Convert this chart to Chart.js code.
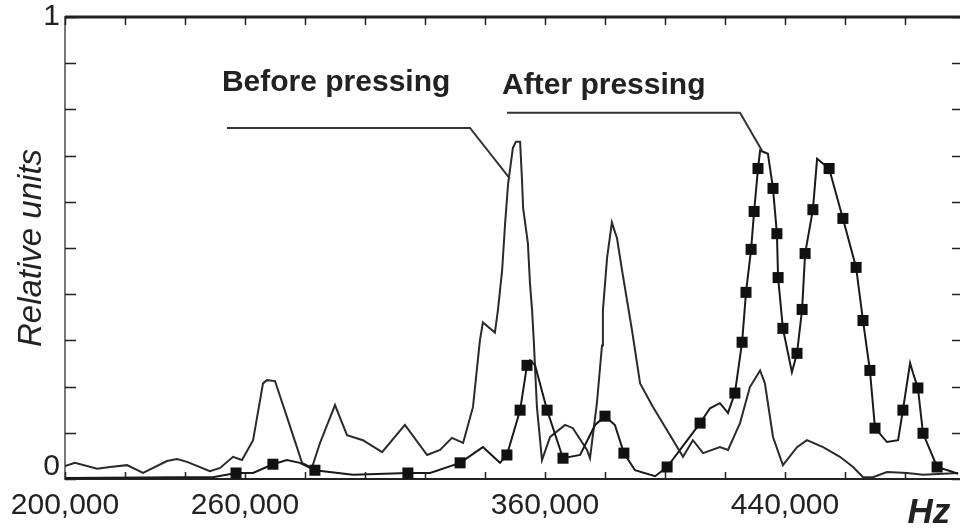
<!DOCTYPE html>
<html>
<head>
<meta charset="utf-8">
<script src="https://cdn.jsdelivr.net/npm/chart.js@4.4.1/dist/chart.umd.min.js"></script>
<style>
  html, body { margin: 0; padding: 0; background: #fff; }
  #wrap { width: 960px; height: 531px; position: relative; }
</style>
</head>
<body>
<div id="wrap"><canvas id="chart"></canvas></div>
<script>
// ── Data (Hz, relative units) ──────────────────────────────────
const beforeHz = [200000, 203300, 210700, 215000, 220700, 226000, 234000, 237300, 240700, 248300,
  251700, 256000, 259000, 262700, 266000, 267300, 270000, 274000, 277300, 279000,
  282300, 285000, 290000, 294000, 299300, 305700, 313300, 320700, 325000, 329000,
  332700, 336000, 338300, 339300, 343300, 344300, 345700, 346700, 347700, 349300,
  350300, 351700, 352300, 352700, 354300, 355000, 355700, 356300, 357300, 359000,
  361700, 366700, 369300, 374000, 375000, 377300, 379000, 379300, 380700, 382300,
  384000, 385700, 389000, 391700, 396000, 402700, 406000, 409300, 412700, 418300,
  421000, 425000, 428300, 431700, 433300, 436000, 439300, 444000, 447300, 452700,
  458300, 462700, 466000, 469300, 474000, 480700, 486000, 497700];
const beforeVal = [0.028, 0.035, 0.022, 0.026, 0.030, 0.013, 0.039, 0.043, 0.037, 0.017,
  0.024, 0.048, 0.041, 0.084, 0.207, 0.214, 0.212, 0.134, 0.069, 0.035,
  0.024, 0.078, 0.160, 0.095, 0.084, 0.058, 0.117, 0.052, 0.063, 0.089,
  0.078, 0.156, 0.300, 0.339, 0.317, 0.365, 0.451, 0.553, 0.639, 0.717,
  0.730, 0.730, 0.652, 0.587, 0.510, 0.423, 0.365, 0.294, 0.156, 0.041,
  0.091, 0.117, 0.110, 0.063, 0.045, 0.164, 0.289, 0.365, 0.479, 0.555,
  0.521, 0.451, 0.322, 0.207, 0.156, 0.084, 0.048, 0.084, 0.056, 0.069,
  0.063, 0.121, 0.199, 0.235, 0.207, 0.091, 0.030, 0.069, 0.084, 0.069,
  0.048, 0.026, 0.004, 0.004, 0.015, 0.013, 0.009, 0.013];

const afterHz = [200000, 238300, 249300, 257000, 262700, 269300, 274000, 278300, 283300, 296000,
  314300, 321700, 331700, 339300, 345000, 347300, 351700, 354000, 355000, 356700,
  360700, 366000, 371700, 376700, 380000, 383300, 386300, 390000, 396700, 400700,
  411700, 415000, 418300, 421000, 423300, 425700, 427000, 428700, 429700, 431000,
  431700, 434300, 436000, 437300, 437700, 439300, 442300, 444000, 445700, 446700,
  449300, 450700, 454700, 459300, 463700, 466000, 468300, 470000, 474000, 477700,
  479300, 481700, 482700, 484300, 486000, 490700, 496000, 497700];
const afterVal = [0.002, 0.004, 0.004, 0.013, 0.013, 0.032, 0.041, 0.035, 0.019, 0.009,
  0.013, 0.013, 0.035, 0.069, 0.035, 0.052, 0.149, 0.246, 0.257, 0.246,
  0.149, 0.045, 0.052, 0.117, 0.136, 0.117, 0.056, 0.019, 0.006, 0.026,
  0.121, 0.153, 0.164, 0.143, 0.186, 0.296, 0.404, 0.497, 0.579, 0.672,
  0.711, 0.704, 0.629, 0.531, 0.436, 0.326, 0.231, 0.272, 0.367, 0.488,
  0.583, 0.693, 0.672, 0.564, 0.458, 0.343, 0.235, 0.110, 0.080, 0.084,
  0.149, 0.251, 0.229, 0.197, 0.099, 0.026, 0.015, 0.011];

// square markers on the "after" curve
const markHz = [257000, 269300, 283300, 314300, 331700, 347300, 351700, 354000, 360700, 366000,
  380000, 386300, 400700, 411700, 423300, 425700, 427000, 428700, 429700, 431000,
  436000, 437300, 437700, 439300, 444000, 445700, 446700, 449300, 454700, 459300,
  463700, 466000, 468300, 470000, 479300, 484300, 486000, 490700];
const markVal = [0.013, 0.032, 0.019, 0.013, 0.035, 0.052, 0.149, 0.246, 0.149, 0.045,
  0.136, 0.056, 0.026, 0.121, 0.186, 0.296, 0.404, 0.497, 0.579, 0.672,
  0.629, 0.531, 0.436, 0.326, 0.272, 0.367, 0.488, 0.583, 0.672, 0.564,
  0.458, 0.343, 0.235, 0.110, 0.149, 0.197, 0.099, 0.026];

// tick positions (every 20 kHz) and the ones that carry a label
const xTickValues = [200000, 220000, 240000, 260000, 280000, 300000, 320000, 340000,
  360000, 380000, 400000, 420000, 440000, 460000, 480000];
const xLabelValues = [200000, 260000, 360000, 440000];
const yLabelValues = [0, 1];

// annotations: [Hz, value]
const noteText = ["Before pressing", "After pressing"];
const noteAt = [[252300, 0.840], [345700, 0.834]];
const leaders = [
  [[254000, 0.760], [335000, 0.760], [348300, 0.650]],
  [[347300, 0.793], [425000, 0.793], [432300, 0.711]],
];

const FONT = "'Liberation Sans', Arial, sans-serif";
const INK = "#222";

const pts = (xs, ys) => xs.map((x, i) => ({ x, y: ys[i] }));
const near = (a, b, eps) => Math.abs(a - b) < eps;

// ── Frame, inward ticks, annotations ───────────────────────────
const framePlugin = {
  id: "frame",
  afterDraw(chart) {
    const { ctx, chartArea: a, scales: { x, y } } = chart;
    ctx.save();
    ctx.strokeStyle = INK;
    ctx.lineWidth = 3;
    ctx.beginPath();
    ctx.moveTo(a.left, a.top);
    ctx.lineTo(a.right, a.top);
    ctx.stroke();

    ctx.lineWidth = 1.5;
    ctx.beginPath();
    x.ticks.forEach(t => {
      const px = Math.round(x.getPixelForValue(t.value)) + 0.5;
      ctx.moveTo(px, a.bottom); ctx.lineTo(px, a.bottom - 7);
      ctx.moveTo(px, a.top);    ctx.lineTo(px, a.top + 8);
    });
    y.ticks.forEach(t => {
      const py = Math.round(y.getPixelForValue(t.value)) + 0.5;
      ctx.moveTo(a.left, py);  ctx.lineTo(a.left + 11, py);
      ctx.moveTo(a.right, py); ctx.lineTo(a.right - 8, py);
    });
    ctx.stroke();

    // leader lines
    ctx.strokeStyle = "#333";
    ctx.lineWidth = 2;
    leaders.forEach(path => {
      ctx.beginPath();
      path.forEach(([hz, v], i) => {
        const px = x.getPixelForValue(hz), py = y.getPixelForValue(v);
        i ? ctx.lineTo(px, py) : ctx.moveTo(px, py);
      });
      ctx.stroke();
    });

    ctx.fillStyle = INK;
    ctx.font = "bold 30px " + FONT;
    ctx.textAlign = "left";
    ctx.textBaseline = "alphabetic";
    noteText.forEach((txt, i) => {
      ctx.fillText(txt, x.getPixelForValue(noteAt[i][0]), y.getPixelForValue(noteAt[i][1]));
    });
    ctx.restore();
  },
};

new Chart(document.getElementById("chart"), {
  type: "line",
  data: {
    datasets: [
      {
        label: "After pressing (markers)",
        data: pts(markHz, markVal),
        showLine: false,
        pointStyle: "rect",
        pointRadius: 7.8,
        pointBackgroundColor: "#111",
        pointBorderColor: "#111",
        pointBorderWidth: 0,
      },
      {
        label: "After pressing",
        data: pts(afterHz, afterVal),
        borderColor: "#1a1a1a",
        borderWidth: 2,
        pointRadius: 0,
        tension: 0,
      },
      {
        label: "Before pressing",
        data: pts(beforeHz, beforeVal),
        borderColor: "#2a2a2a",
        borderWidth: 2,
        pointRadius: 0,
        tension: 0,
      },
    ],
  },
  options: {
    responsive: true,
    maintainAspectRatio: false,
    animation: false,
    layout: { autoPadding: false, padding: { top: 16, right: 0, bottom: 0, left: 0 } },
    plugins: {
      legend: { display: false },
      tooltip: { enabled: false },
    },
    scales: {
      x: {
        type: "linear",
        position: "bottom",
        min: 200000,
        max: 498333,
        afterBuildTicks: s => { s.ticks = xTickValues.map(value => ({ value })); },
        afterFit: s => { s.height = 52; },
        grid: { display: false, drawTicks: false },
        border: { display: true, color: INK, width: 2 },
        ticks: {
          autoSkip: false,
          maxRotation: 0,
          padding: 9,
          color: INK,
          font: { family: FONT, size: 30 },
          callback: v => {
            const hit = xLabelValues.find(l => near(v, l, 1));
            return hit !== undefined ? hit.toLocaleString("en-US") : "";
          },
        },
        title: {
          display: true,
          text: "Hz ",
          align: "end",
          color: INK,
          padding: 0,
          font: { family: FONT, size: 35, weight: "bold", style: "italic", lineHeight: 1 },
        },
      },
      y: {
        type: "linear",
        min: 0,
        max: 1,
        afterFit: s => { s.width = 65; },
        grid: { display: false, drawTicks: false },
        border: { display: true, color: "#777", width: 2 },
        ticks: {
          stepSize: 0.1,
          autoSkip: false,
          padding: 5,
          color: INK,
          font: { family: FONT, size: 30, lineHeight: 0.8 },
          callback: v => {
            if (near(v, yLabelValues[0], 1e-9)) return ["0", ""];
            if (near(v, yLabelValues[1], 1e-9)) return "1";
            return "";
          },
        },
        title: {
          display: true,
          text: "Relative units",
          color: INK,
          padding: { top: 12, bottom: 0 },
          font: { family: FONT, size: 33, style: "italic" },
        },
      },
    },
  },
  plugins: [framePlugin],
});
</script>
</body>
</html>
